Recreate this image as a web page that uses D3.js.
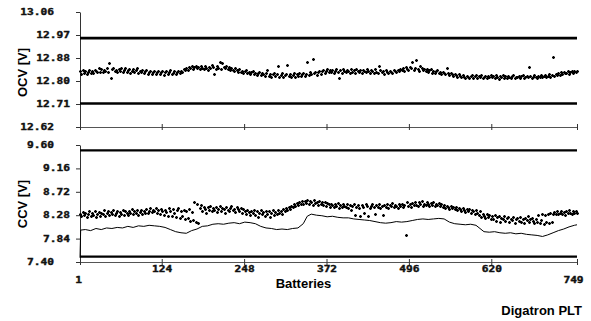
<!DOCTYPE html>
<html><head><meta charset="utf-8">
<script src="https://cdn.jsdelivr.net/npm/d3@7"></script>
<style>body{margin:0;background:#fff}svg{display:block}</style>
</head><body>
<svg id="c" width="591" height="321"></svg>
<script>
// ---- data ----
const xTicks = [1, 124, 248, 372, 496, 620, 749];
const ocvTicks = [12.62, 12.708, 12.796, 12.884, 12.972, 13.06];
const ccvTicks = [7.40, 7.84, 8.28, 8.72, 9.16, 9.60];
const ocvLimits = [12.96, 12.71];
const ccvLimits = [9.50, 7.50];
const sampleStep = 2; // one point every 2nd battery, starting at battery 1

const ocvValues = [
12.833,12.823,12.837,12.828,12.835,12.821,12.831,12.839,12.826,12.834,
12.826,12.840,12.834,12.831,12.845,12.832,12.842,12.829,12.838,12.835,
12.844,12.830,12.864,12.806,12.841,12.846,12.833,12.839,12.829,12.843,
12.836,12.845,12.830,12.840,12.847,12.832,12.838,12.843,12.828,12.836,
12.841,12.829,12.838,12.844,12.827,12.835,12.831,12.840,12.825,12.833,
12.838,12.824,12.832,12.836,12.822,12.830,12.834,12.821,12.829,12.835,
12.823,12.831,12.836,12.820,12.829,12.833,12.824,12.830,12.837,12.822,
12.828,12.834,12.821,12.830,12.835,12.826,12.836,12.831,12.841,12.838,
12.846,12.840,12.851,12.845,12.853,12.842,12.849,12.855,12.844,12.850,
12.841,12.852,12.846,12.843,12.854,12.847,12.840,12.851,12.845,12.856,
12.848,12.823,12.843,12.852,12.846,12.869,12.841,12.866,12.850,12.844,
12.853,12.842,12.849,12.837,12.846,12.840,12.835,12.844,12.838,12.832,
12.841,12.830,12.836,12.827,12.834,12.839,12.825,12.831,12.822,12.829,
12.833,12.821,12.828,12.819,12.826,12.831,12.818,12.827,12.823,12.815,
12.826,12.838,12.816,12.823,12.813,12.821,12.827,12.814,12.822,12.853,
12.812,12.820,12.825,12.811,12.818,12.823,12.857,12.814,12.821,12.810,
12.819,12.826,12.813,12.822,12.816,12.828,12.815,12.821,12.827,12.814,
12.824,12.870,12.818,12.829,12.821,12.879,12.826,12.831,12.820,12.830,
12.836,12.824,12.833,12.839,12.827,12.835,12.841,12.829,12.837,12.832,
12.840,12.827,12.836,12.843,12.830,12.806,12.838,12.828,12.842,12.833,
12.829,12.839,12.835,12.826,12.841,12.832,12.837,12.828,12.843,12.834,
12.830,12.838,12.827,12.840,12.835,12.829,12.842,12.833,12.826,12.839,
12.836,12.828,12.841,12.832,12.826,12.853,12.837,12.829,12.834,12.824,
12.838,12.830,12.825,12.836,12.831,12.827,12.839,12.833,12.829,12.840,
12.835,12.843,12.838,12.846,12.834,12.848,12.841,12.837,12.850,12.844,
12.870,12.839,12.847,12.876,12.842,12.836,12.852,12.845,12.838,12.843,
12.834,12.841,12.830,12.837,12.843,12.828,12.835,12.826,12.833,12.838,
12.827,12.832,12.823,12.830,12.825,12.821,12.845,12.828,12.819,12.826,
12.822,12.815,12.824,12.818,12.812,12.821,12.816,12.810,12.819,12.813,
12.808,12.817,12.812,12.806,12.815,12.820,12.809,12.814,12.818,12.807,
12.816,12.811,12.819,12.808,12.813,12.817,12.806,12.815,12.811,12.819,
12.810,12.814,12.808,12.818,12.812,12.805,12.816,12.811,12.819,12.809,
12.814,12.807,12.817,12.812,12.808,12.815,12.819,12.806,12.813,12.810,
12.816,12.809,12.814,12.818,12.807,12.812,12.817,12.810,12.851,12.815,
12.808,12.813,12.819,12.811,12.806,12.816,12.812,12.818,12.810,12.815,
12.820,12.812,12.817,12.822,12.813,12.819,12.889,12.816,12.824,12.818,
12.826,12.820,12.829,12.823,12.831,12.825,12.828,12.834,12.824,12.830,
12.836,12.827,12.833,12.829,12.835];

const ccvValues = [
8.31,8.26,8.34,8.28,8.32,8.25,8.30,8.35,8.27,8.33,
8.29,8.36,8.24,8.31,8.34,8.27,8.33,8.30,8.37,8.26,
8.32,8.35,8.28,8.34,8.30,8.38,8.29,8.33,8.36,8.27,
8.34,8.31,8.37,8.29,8.35,8.32,8.28,8.36,8.33,8.39,
8.30,8.35,8.32,8.38,8.29,8.34,8.37,8.31,8.36,8.33,
8.39,8.32,8.36,8.41,8.34,8.38,8.35,8.42,8.33,8.37,
8.31,8.40,8.35,8.29,8.38,8.34,8.27,8.41,8.36,8.26,
8.39,8.33,8.24,8.37,8.42,8.22,8.35,8.26,8.38,8.20,
8.36,8.23,8.40,8.17,8.34,8.19,8.53,8.15,8.49,8.13,
8.42,8.47,8.36,8.44,8.39,8.33,8.43,8.38,8.46,8.35,
8.41,8.37,8.44,8.34,8.40,8.45,8.36,8.42,8.39,8.33,
8.43,8.38,8.35,8.41,8.46,8.37,8.40,8.34,8.44,8.39,
8.36,8.42,8.33,8.39,8.35,8.30,8.38,8.34,8.28,8.36,
8.32,8.37,8.29,8.35,8.24,8.33,8.38,8.30,8.34,8.27,
8.36,8.31,8.35,8.25,8.33,8.37,8.29,8.34,8.31,8.38,
8.33,8.36,8.30,8.39,8.35,8.41,8.37,8.44,8.40,8.46,
8.43,8.49,8.45,8.51,8.47,8.53,8.49,8.55,8.50,8.54,
8.51,8.57,8.49,8.54,8.52,8.48,8.56,8.51,8.53,8.47,
8.55,8.50,8.53,8.48,8.52,8.46,8.51,8.49,8.44,8.50,
8.47,8.43,8.49,8.45,8.51,8.42,8.48,8.44,8.50,8.46,
8.43,8.49,8.41,8.47,8.38,8.45,8.50,8.28,8.44,8.48,
8.42,8.26,8.47,8.43,8.32,8.49,8.45,8.27,8.41,8.46,
8.50,8.43,8.30,8.47,8.44,8.49,8.41,8.46,8.29,8.48,
8.44,8.50,8.42,8.47,8.45,8.51,8.43,8.48,8.46,8.41,
8.49,8.45,8.50,8.43,8.47,7.90,8.52,8.46,8.49,8.44,
8.51,8.47,8.53,8.48,8.45,8.52,8.49,8.54,8.46,8.50,
8.47,8.53,8.49,8.45,8.51,8.48,8.52,8.46,8.50,8.47,
8.51,8.46,8.49,8.44,8.48,8.42,8.46,8.43,8.40,8.45,
8.41,8.44,8.39,8.43,8.37,8.42,8.40,8.36,8.41,8.38,
8.34,8.39,8.36,8.40,8.33,8.38,8.35,8.31,8.37,8.32,
8.29,8.35,8.25,8.31,8.27,8.22,8.30,8.24,8.28,8.20,
8.26,8.21,8.29,8.18,8.24,8.27,8.16,8.23,8.20,8.26,
8.17,8.22,8.25,8.15,8.21,8.19,8.24,8.14,8.20,8.23,
8.18,8.25,8.16,8.21,8.14,8.22,8.19,8.26,8.15,8.20,
8.23,8.17,8.13,8.21,8.16,8.28,8.14,8.19,8.30,8.12,
8.29,8.15,8.31,8.13,8.33,8.16,8.30,8.34,8.31,8.35,
8.30,8.33,8.36,8.31,8.34,8.29,8.35,8.32,8.37,8.33,
8.30,8.35,8.32,8.36,8.33];

// lower CCV trace: [battery, volts]
const ccvMinSeries = [
[1,7.48],[2,8.00],[9,8.01],[17,7.99],[25,8.03],[33,8.01],[41,8.04],[49,8.03],[57,8.05],[65,8.04],
[73,8.07],[81,8.05],[89,8.08],[97,8.07],[105,8.09],[113,8.08],[121,8.07],[129,8.05],[137,8.01],[145,7.97],
[153,7.95],[161,7.94],[169,7.99],[177,8.02],[185,8.07],[193,8.08],[201,8.11],[209,8.12],[217,8.11],[225,8.13],
[233,8.14],[241,8.12],[249,8.15],[257,8.14],[265,8.12],[273,8.07],[281,8.04],[289,8.03],[297,8.01],[305,8.02],
[313,8.01],[321,8.03],[329,8.04],[337,8.12],[343,8.26],[349,8.30],[357,8.28],[365,8.27],[373,8.25],[381,8.26],
[389,8.24],[397,8.23],[405,8.23],[413,8.21],[421,8.20],[429,8.19],[437,8.18],[445,8.16],[453,8.14],[461,8.13],
[469,8.14],[477,8.16],[485,8.15],[493,8.16],[501,8.18],[509,8.20],[517,8.21],[525,8.20],[533,8.21],[541,8.22],
[549,8.21],[557,8.15],[565,8.12],[573,8.11],[581,8.10],[589,8.11],[597,8.09],[603,8.03],[609,7.97],[617,7.96],
[625,7.97],[633,7.95],[641,7.94],[649,7.95],[657,7.93],[665,7.94],[673,7.92],[681,7.91],[689,7.90],[697,7.88],
[705,7.91],[713,7.95],[721,7.99],[729,8.02],[737,8.06],[745,8.09],[749,8.10]];

// ---- drawing ----
const svg = d3.select('#c');
const x = d3.scaleLinear().domain([1, 749]).range([80, 577]);
const yO = d3.scaleLinear().domain([12.62, 13.06]).range([127, 12]);
const yC = d3.scaleLinear().domain([7.40, 9.60]).range([262, 145]);
const SX = 1.4; // horizontal stretch of the squat tick font

const ocvPts = ocvValues.map((v, i) => ({b: 1 + sampleStep * i, v}));
const ccvPts = ccvValues.map((v, i) => ({b: 1 + sampleStep * i, v}));
const minPts = ccvMinSeries.map(([b, v]) => ({b, v}));

function styleText(sel) {
  sel.attr('fill', '#111').attr('stroke', '#111').attr('stroke-width', 0.35);
}
function yAxis(scale, ticks) {
  const g = svg.append('g').attr('transform', 'translate(80,0)')
    .call(d3.axisLeft(scale).tickValues(ticks).tickSize(4).tickSizeOuter(0)
      .tickFormat(d3.format('.2f')));
  g.attr('font-family', 'DejaVu Sans Mono').attr('font-size', 8).attr('font-weight', 'bold');
  g.select('.domain').attr('stroke', '#333');
  g.selectAll('.tick line').attr('stroke', '#333');
  g.selectAll('.tick text').each(function(d, i) {
    const end = (i === 0 || i === ticks.length - 1);
    d3.select(this).attr('x', (end ? -26 : -10) / SX)
      .attr('transform', `scale(${SX},1)`).call(styleText);
  });
}
function xAxis(y0, labels) {
  const g = svg.append('g').attr('transform', `translate(0,${y0})`)
    .call(d3.axisBottom(x).tickValues(xTicks).tickSizeOuter(0)
      .tickFormat(labels ? d3.format('d') : () => ''));
  g.attr('font-family', 'DejaVu Sans Mono').attr('font-size', 8).attr('font-weight', 'bold');
  g.select('.domain').attr('stroke', '#555');
  g.selectAll('.tick line').attr('y1', -3).attr('y2', 3).attr('stroke', '#333');
  if (labels) {
    g.selectAll('.tick text').each(function(d, i) {
      const first = i === 0, last = i === xTicks.length - 1;
      const dx = first ? -2 : (last ? -4 : 0);
      d3.select(this).attr('dy', null).attr('y', (first || last) ? 21.5 : 10)
        .attr('x', dx / SX).attr('transform', `scale(${SX},1)`).call(styleText);
    });
  }
}

yAxis(yO, ocvTicks);
yAxis(yC, ccvTicks);
xAxis(127, false);
xAxis(262, true);

// limit lines
svg.selectAll('line.limO').data(ocvLimits).join('line').attr('class', 'limO')
  .attr('x1', x(1)).attr('x2', x(749)).attr('y1', d => yO(d)).attr('y2', d => yO(d))
  .attr('stroke', '#000').attr('stroke-width', 2.6);
svg.selectAll('line.limC').data(ccvLimits).join('line').attr('class', 'limC')
  .attr('x1', x(1)).attr('x2', x(749)).attr('y1', d => yC(d)).attr('y2', d => yC(d))
  .attr('stroke', '#000').attr('stroke-width', 2.2);

// scatter markers
function plus(sel, ys) {
  sel.attr('d', d => {
    const px = Math.round(x(d.b)) + 0.5, py = Math.round(ys(d.v)) + 0.5;
    return `M${px - 1.5},${py}h3M${px},${py - 1.5}v3`;
  }).attr('stroke', '#000').attr('stroke-width', 1.35).attr('fill', 'none');
}
svg.append('g').selectAll('path').data(ocvPts).join('path').call(plus, yO);
svg.append('g').selectAll('path').data(ccvPts).join('path').call(plus, yC);

// CCV minimum line
svg.append('path').datum(minPts)
  .attr('d', d3.line().x(d => x(d.b)).y(d => yC(d.v)))
  .attr('fill', 'none').attr('stroke', '#000').attr('stroke-width', 1);

// titles
const tf = 'Liberation Sans, Arial, sans-serif';
svg.append('text').attr('transform', 'translate(27,72.5) rotate(-90)')
  .attr('text-anchor', 'middle').attr('font-family', tf).attr('font-weight', 'bold')
  .attr('font-size', 13).text('OCV [V]');
svg.append('text').attr('transform', 'translate(27,204) rotate(-90)')
  .attr('text-anchor', 'middle').attr('font-family', tf).attr('font-weight', 'bold')
  .attr('font-size', 13).text('CCV [V]');
svg.append('text').attr('x', 303.5).attr('y', 288)
  .attr('text-anchor', 'middle').attr('font-family', tf).attr('font-weight', 'bold')
  .attr('font-size', 13).text('Batteries');
svg.append('text').attr('x', 582).attr('y', 314.5)
  .attr('text-anchor', 'end').attr('font-family', tf).attr('font-weight', 'bold')
  .attr('font-size', 13).text('Digatron PLT');
</script>
</body></html>
